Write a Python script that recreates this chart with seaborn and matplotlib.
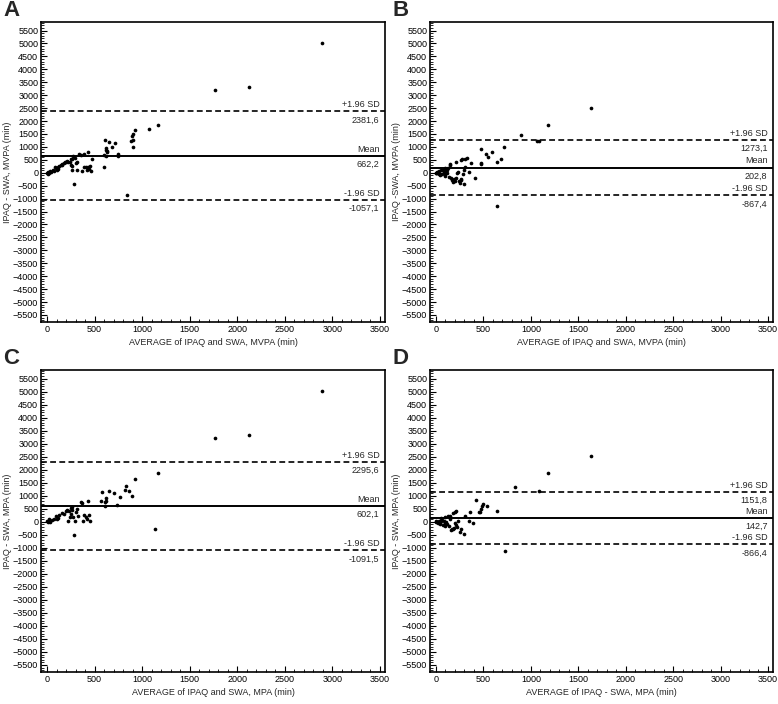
import numpy as np
import pandas as pd
import seaborn as sns
import matplotlib
import matplotlib.pyplot as plt
from matplotlib.ticker import MultipleLocator

matplotlib.use('Agg')

sns.set_style('white')
plt.rcParams['font.family'] = ['Liberation Sans Narrow', 'Liberation Sans', 'DejaVu Sans']

# Panel A: IPAQ vs SWA, MVPA
a_avg = [2888, 2125, 1768, 1166, 1067, 922, 905, 895, 884, 900, 901, 837, 742, 742, 718, 679, 657, 612,
         625, 618, 636, 630, 604, 598, 620,
         0, 10, 11, 25, 36, 45, 60, 75, 89, 95, 106, 115, 120, 131, 145, 159, 160, 175, 188, 200,
         212, 225, 237, 248, 250, 259, 265, 265, 276, 283, 290, 301, 312, 318, 336, 354, 371, 389, 389, 410,
         424, 435, 435, 442, 450, 460, 477]
a_diff = [5030, 3330, 3200, 1864, 1695, 1643, 1515, 1423, 1228, 1250, 1010, -854, 711, 634, 1150, 1000, 1190, 1254,
          958, 867, 803, 830, 672, 219, 650,
          5, 20, -39, -10, 50, 10, 116, 60, 219, 180, 89, 150, 240, 272, 300, 349, 300, 380, 412, 410,
          439, 420, 412, 311, 520, 245, 544, 89, 633, -454, 560, 373, 412, 89, 738, 672, 62, 738, 219, 230,
          89, 800, 219, 155, 250, 62, 544]
a_stats = [662.2, 2381.6, -1057.1]

# Panel B
b_avg = [1636, 1177, 895, 1081, 1060, 718, 686, 647, 643, 587, 548, 527, 471, 477, 471, 410, 365, 350,
         322, 308, 276, 265, 308, 294, 280, 269, 294, 251, 269, 233, 223, 216, 209, 180, 187, 170,
         156, 138, 145, 152, 127, 110, 117, 92, 82, 74, 57, 46, 39, 21, 11, 32, 64, 92, 99, 0, 5, 15,
         28, 240, 200, 120, 102]
b_diff = [2510, 1864, 1475, 1228, 1210, 983, 544, 412, -1270, 800, 606, 738, 932, 373, 322, -210, 373, 23,
          583, 544, 544, 478, 219, 89, -39, -233, -427, -404, -272, 23, -16, -194, 412, -365, -249, -272,
          -210, -171, 283, 349, 178, 50, -16, -39, 23, 116, 89, -39, -105, 23, -16, 62, -62, 194, -140, 0, -20, 10,
          -60, -300, -320, 90, 130]
b_stats = [202.8, 1273.1, -867.4]

# Panel C: MPA
c_avg = [2888, 2125, 1768, 1166, 1138, 922, 890, 863, 831, 824, 767, 731, 700, 657, 615, 615, 608, 608,
         577, 569, 428, 371, 354, 449, 442, 407, 389, 378, 424, 322, 307, 315, 294, 283, 276, 265,
         259, 251, 248, 230, 219, 212, 195, 159, 131, 106, 95, 71, 53, 25, 11, 0, 30, 20, 120, 180, 240]
c_diff = [5030, 3330, 3200, 1860, -276, 1639, 979, 1185, 1379, 1212, 952, 629, 1107, 1185, 928, 800, 740, 590,
          1146, 785, 796, 719, 746, 47, 241, 175, 241, 47, 113, 202, 369, 501, 47, -497, 175, 563,
          435, 280, 524, 396, 19, 435, 396, 330, 241, 113, 202, 113, 74, 47, -19, 10, 0, 100, 150, 300, 200]
c_stats = [602.1, 2295.6, -1091.5]

# Panel D
d_avg = [1636, 1177, 1081, 834, 643, 731, 541, 498, 481, 474, 463, 449, 421, 357, 350, 386, 304, 294,
         269, 251, 223, 209, 198, 180, 233, 216, 198, 187, 163, 170, 138, 152, 127, 145, 110, 92,
         99, 82, 68, 46, 39, 29, 11, 21, 57, 74, 99, 50, 0, 5, 120, 180]
d_diff = [2520, 1860, 1200, 1340, 416, -1126, 621, 690, 621, 493, 365, 388, 854, 388, 39, -50, 233, -478,
          -284, -412, -194, 427, 365, 326, 39, -128, -50, -233, -322, -260, -179, 233, 210, 105, 0, 171,
          -50, 39, 78, -50, -89, 39, 0, -30, 10, -128, -166, 130, -10, 20, -100, -280]
d_stats = [142.7, 1151.8, -866.4]

panels = [
    ('A', a_avg, a_diff, a_stats, 'AVERAGE of IPAQ and SWA, MVPA (min)', 'IPAQ - SWA, MVPA (min)', (41, 22, 385, 322)),
    ('B', b_avg, b_diff, b_stats, 'AVERAGE of IPAQ and SWA, MVPA (min)', 'IPAQ -SWA, MVPA (min)', (430, 22, 773, 322)),
    ('C', c_avg, c_diff, c_stats, 'AVERAGE of IPAQ and SWA, MPA (min)', 'IPAQ - SWA, MPA (min)', (41, 370, 385, 672)),
    ('D', d_avg, d_diff, d_stats, 'AVERAGE of IPAQ - SWA, MPA (min)', 'IPAQ - SWA, MPA (min)', (430, 370, 773, 672)),
]

W, H = 778, 704
fig = plt.figure(figsize=(W / 100, H / 100), dpi=100)
fig.patch.set_facecolor('white')

fs = 6.5

for letter, xs, ys, stats, xlab, ylab, (l, t, r, b) in panels:
    ax = fig.add_axes([l / W, 1 - b / H, (r - l) / W, (b - t) / H])
    df = pd.DataFrame({'avg': xs, 'diff': ys})
    sns.scatterplot(data=df, x='avg', y='diff', ax=ax, color='black', s=7, linewidth=0)

    mean, up, lo = stats
    ax.axhline(mean, color='black', lw=1.4)
    ax.axhline(up, color='black', lw=1.2, ls=(0, (3.5, 2)))
    ax.axhline(lo, color='black', lw=1.2, ls=(0, (3.5, 2)))

    for val, name in [(up, '+1.96 SD'), (mean, 'Mean'), (lo, '-1.96 SD')]:
        ax.annotate(name, xy=(1, val), xycoords=('axes fraction', 'data'),
                    xytext=(-4, 1.5), textcoords='offset points', ha='right', va='bottom', fontsize=fs)
        txt = f'{val:.1f}'.replace('.', ',')
        ax.annotate(txt, xy=(1, val), xycoords=('axes fraction', 'data'),
                    xytext=(-4, -3), textcoords='offset points', ha='right', va='top', fontsize=fs)

    ax.set_xlim(-63, 3553)
    ax.set_ylim(-5771, 5829)
    ax.set_xticks(np.arange(0, 3501, 500))
    ax.set_yticks(np.arange(-5500, 5501, 500))
    ax.xaxis.set_minor_locator(MultipleLocator(100))
    ax.yaxis.set_minor_locator(MultipleLocator(100))
    ax.tick_params(axis='both', which='major', direction='in', length=4, width=0.8,
                   labelsize=fs, pad=2, colors='black')
    ax.tick_params(axis='both', which='minor', direction='in', length=2, width=0.6, colors='black')
    ax.tick_params(axis='x', which='both', top=False, bottom=True)
    ax.tick_params(axis='y', which='both', left=True, right=False)

    for sp in ax.spines.values():
        sp.set_color('black')
        sp.set_linewidth(1.2)

    ax.set_xlabel(xlab, fontsize=fs, labelpad=3)
    ax.set_ylabel(ylab, fontsize=fs)
    # label sits about 29 px left of the frame
    ax.yaxis.set_label_coords(-29 / (r - l), 0.5)

    fig.text((l - 38) / W, 1 - (t - 12) / H, letter, fontsize=16, fontweight='bold',
             family=['Liberation Sans', 'DejaVu Sans'], ha='left', va='center')

fig.savefig('out.png', dpi=100, facecolor='white')
